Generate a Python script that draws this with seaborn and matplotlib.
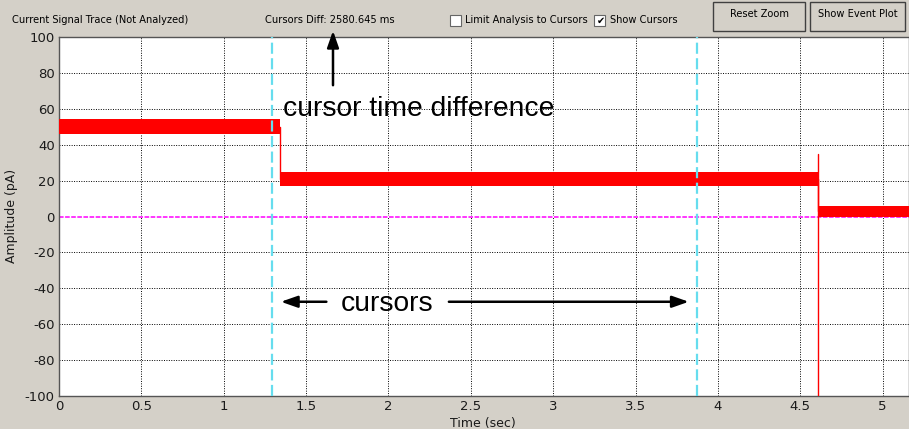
import numpy as np
import pandas as pd
import matplotlib
matplotlib.use('Agg')
import matplotlib.pyplot as plt
import seaborn as sns
from matplotlib.patches import Rectangle

# step levels of the current trace
seg_start = [0.0, 1.341, 4.605]
seg_end = [1.341, 4.605, 5.16]
seg_level = [50, 21, 3]
seg_noise = [4.2, 4.0, 3.0]   # half width of the noise band (pA)
spike_t = 4.605
spike_lo, spike_hi = -100, 35

cursors = [1.29, 3.8706]
x_ticks = [0, 0.5, 1, 1.5, 2, 2.5, 3, 3.5, 4, 4.5, 5]
y_ticks = [-100, -80, -60, -40, -20, 0, 20, 40, 60, 80, 100]

bg = '#d4d0c8'
sns.set_style('white')
plt.rcParams['font.family'] = ['DejaVu Sans']
plt.rcParams['axes.unicode_minus'] = False
plt.rcParams['text.color'] = 'black'

fig = plt.figure(figsize=(9.09, 4.29), dpi=100, facecolor=bg)
ax = fig.add_axes([59 / 909, 1 - 396 / 429, 1 - 59 / 909, (396 - 37) / 429])

# trace as a step line + noise band
rows = []
for s, e, lv in zip(seg_start, seg_end, seg_level):
    rows.append((s, lv))
    rows.append((e, lv))
trace = pd.DataFrame(rows, columns=['t', 'amp'])
for s, e, lv, nz in zip(seg_start, seg_end, seg_level, seg_noise):
    ax.fill_between([s, e], lv - nz, lv + nz, color='red', lw=0, zorder=3)
sns.lineplot(data=trace, x='t', y='amp', estimator=None, sort=False,
             color='red', lw=1, ax=ax, zorder=3)
ax.plot([spike_t, spike_t], [spike_lo, spike_hi], color='red', lw=1, zorder=3)

ax.axhline(0, color='white', lw=1.4, zorder=1.5)
ax.axhline(0, color='#ff00ff', ls=(0, (3, 1)), lw=1.1, zorder=2)
for c in cursors:
    ax.axvline(c, color='#66ddee', ls=(0, (5, 2)), lw=1.6, zorder=4)

ax.set_xlim(0, 5.16)
ax.set_ylim(-100, 100)
ax.set_xticks(x_ticks)
ax.set_xticklabels([f'{v:g}' for v in x_ticks])
ax.set_yticks(y_ticks)
ax.grid(True, color='black', ls=(0, (1, 1.5)), lw=0.7)
ax.tick_params(labelsize=9.5, labelcolor='#1a1a1a', length=3, direction='in',
               pad=3)
for sp in ax.spines.values():
    sp.set_color('#555555')
    sp.set_linewidth(1)
ax.set_xlabel('')
ax.set_ylabel('')
fig.text(483 / 909, 1 - 423 / 429, 'Time (sec)', fontsize=9, ha='center',
         va='center', color='#1a1a1a')
fig.text(12 / 909, 1 - 216 / 429, 'Amplitude (pA)', fontsize=9, ha='center',
         va='center', rotation=90, color='#1a1a1a')

# annotations
ann = dict(fontsize=20.3, color='black', family=['Liberation Sans', 'DejaVu Sans'])
ax.text(1.36, 60, 'cursor time difference', va='center', ha='left', **ann)
ax.annotate('', xy=(333 / 909, 1 - 28 / 429), xycoords='figure fraction',
            xytext=(333 / 909, 1 - 88 / 429), textcoords='figure fraction',
            arrowprops=dict(arrowstyle='-|>,head_width=0.35,head_length=1.0',
                            color='black', lw=1.8))
ax.text(1.993, -49, 'cursors', va='center', ha='center', **ann)
ax.annotate('', xy=(1.33, -47.5), xytext=(1.64, -47.5),
            arrowprops=dict(arrowstyle='-|>,head_width=0.35,head_length=1.0',
                            color='black', lw=1.8))
ax.annotate('', xy=(3.84, -47.5), xytext=(2.35, -47.5),
            arrowprops=dict(arrowstyle='-|>,head_width=0.35,head_length=1.0',
                            color='black', lw=1.8))

# header widgets
hdr = dict(fontsize=7.1, va='center', transform=fig.transFigure)
fig.text(12 / 909, 1 - 20 / 429, 'Current Signal Trace (Not Analyzed)', **hdr)
fig.text(265 / 909, 1 - 20 / 429, 'Cursors Diff: 2580.645 ms', **hdr)
for x0 in [450, 594]:
    fig.patches.append(Rectangle((x0 / 909, 1 - 26 / 429), 11 / 909, 11 / 429,
                                 transform=fig.transFigure, facecolor='white',
                                 edgecolor='#666666', lw=0.8))
fig.text(596.5 / 909, 1 - 20.5 / 429, '\u2714', fontsize=7, va='center',
         transform=fig.transFigure)
fig.text(465 / 909, 1 - 20 / 429, 'Limit Analysis to Cursors', **hdr)
fig.text(610 / 909, 1 - 20 / 429, 'Show Cursors', **hdr)
for x0, w, lbl in [(713, 92, 'Reset Zoom'), (810, 95, 'Show Event Plot')]:
    fig.patches.append(Rectangle((x0 / 909, 1 - 31 / 429), w / 909, 29 / 429,
                                 transform=fig.transFigure, facecolor=bg,
                                 edgecolor='#404040', lw=1))
    fig.text((x0 + w / 2) / 909, 1 - 14 / 429, lbl, ha='center',
             fontsize=7.1, va='center', transform=fig.transFigure)

fig.savefig('out.png', dpi=100, facecolor=bg)
